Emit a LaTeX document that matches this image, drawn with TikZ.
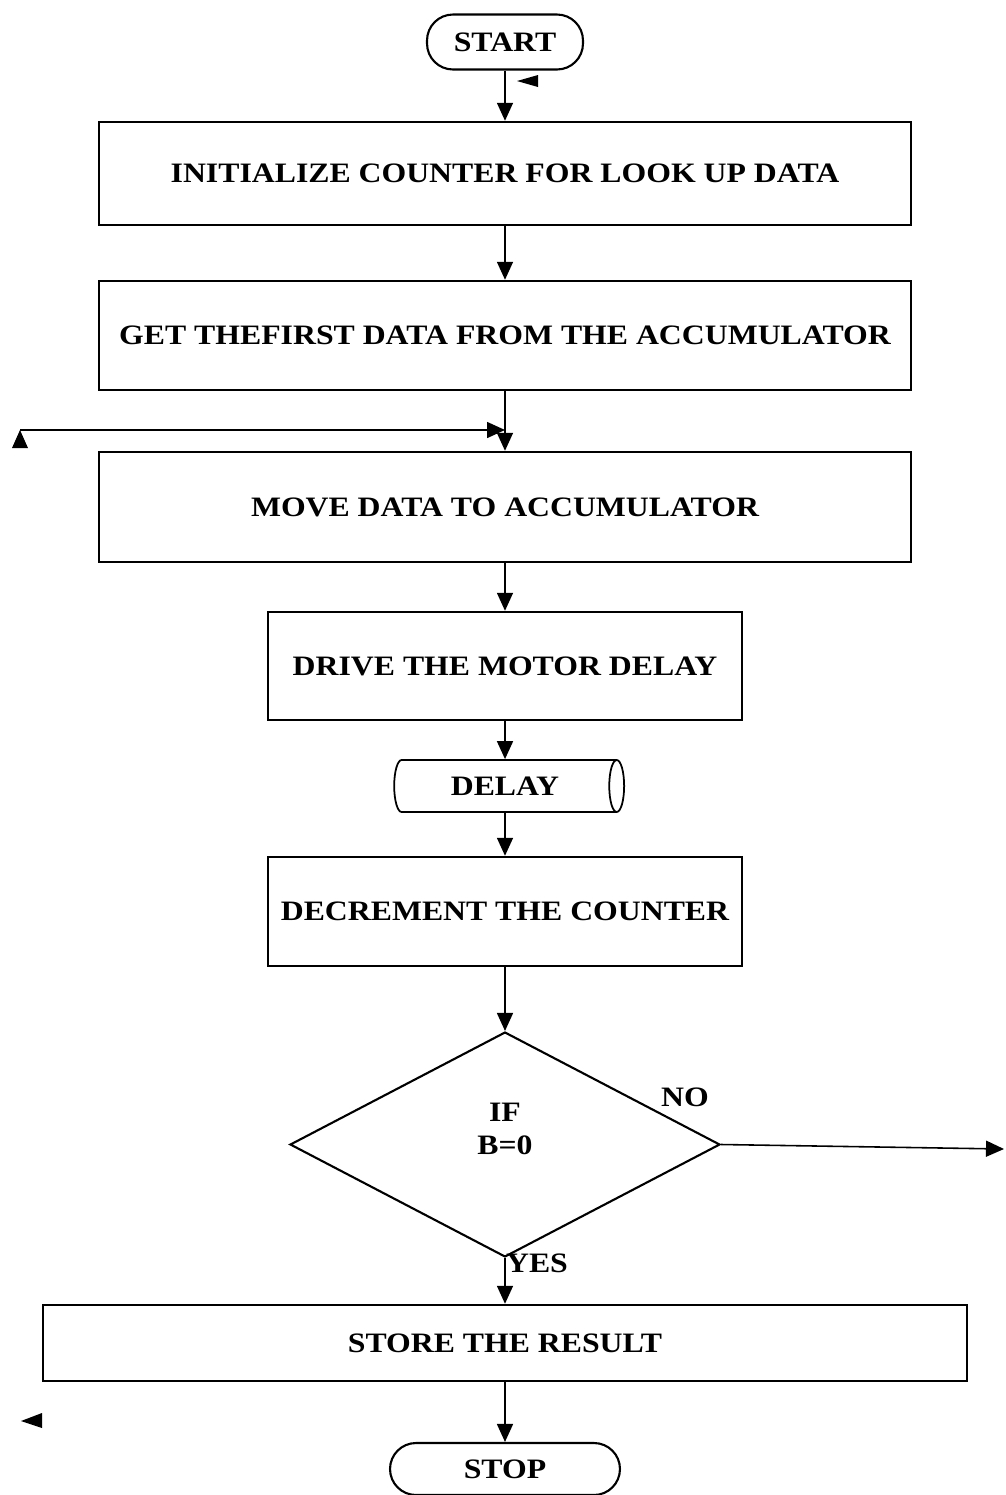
\documentclass[tikz,border=0pt]{standalone}
\usepackage{fontspec}
\setmainfont{Liberation Serif}[FakeStretch=1.13]
\usetikzlibrary{positioning,arrows.meta,shapes.geometric}

\begin{document}
\begin{tikzpicture}[x=0.02cm, y=-0.02cm,
  proc/.style={draw, line width=1.4pt, minimum width=16.24cm,
               minimum height=2.12cm, align=center, inner sep=0pt,
               font=\bfseries\fontsize{16}{19}\selectfont},
  term/.style={draw, line width=1.2pt, rounded corners=0.52cm,
               minimum height=1.1cm, inner sep=0pt,
               font=\bfseries\fontsize{16}{19}\selectfont},
  pipe/.style={draw, line width=1pt, cylinder, shape aspect=0.8,
               minimum height=4.6cm, minimum width=1.04cm, inner sep=0pt,
               font=\bfseries\fontsize{16}{19}\selectfont},
  decision/.style={draw, line width=1.2pt, diamond, minimum width=8.6cm,
                   minimum height=4.5cm, inner sep=0pt, align=center,
                   text depth=0.64cm,
                   font=\bfseries\fontsize{16}{19}\selectfont},
  arr/.style={-{Triangle[length=0.36cm, width=0.32cm]}, line width=0.9pt},
  lbl/.style={font=\bfseries\fontsize{16}{19}\selectfont}
]
  \useasboundingbox (0,0) rectangle (1005,1495);

  % Start
  \node[term, minimum width=3.12cm] (start) at (505,42) {START};

  % Set up
  \node[proc, minimum height=2.06cm] (init) at (505,173.5)
    {INITIALIZE COUNTER FOR LOOK UP DATA};
  \node[proc, minimum height=2.18cm] (getdata) at (505,335.5)
    {GET THEFIRST DATA FROM THE ACCUMULATOR};
  \node[proc, minimum height=2.2cm] (movedata) at (505,507)
    {MOVE DATA TO ACCUMULATOR};

  % Motor step
  \node[proc, minimum width=9.48cm, minimum height=2.16cm] (drive) at (505,666)
    {DRIVE THE MOTOR DELAY};
  \node[pipe] (delay) at (505,786) {DELAY};
  \node[proc, minimum width=9.48cm, minimum height=2.18cm] (decr) at (505,911.5)
    {DECREMENT THE COUNTER};

  % Test
  \node[decision] (check) at (505,1144.5) {IF\\B=0};
  \node[lbl] (no) at (685,1097) {NO};
  \node[lbl] (yes) at (537,1263) {YES};

  % End
  \node[proc, minimum width=18.48cm, minimum height=1.52cm] (store) at (505,1343)
    {STORE THE RESULT};
  \node[term, minimum width=4.6cm, minimum height=1.04cm] (stop) at (505,1469)
    {STOP};

  % Connectors
  \draw[arr] (start) -- (init);
  \draw[arr] (init) -- (getdata);
  \draw[arr] (getdata) -- (movedata);
  \draw[arr] (movedata) -- (drive);
  \draw[arr] (drive) -- (delay);
  \draw[arr] (delay) -- (decr);
  \draw[arr] (decr) -- (check);
  \draw[arr] (check) -- (store);
  \draw[arr] (store) -- (stop);

  % Loop back line
  \coordinate (loopL) at (20,430);
  \coordinate (loopR) at (505,430);
  \draw[arr] (loopL) -- (loopR);
  \fill (loopL) -- ++(-8,18) -- ++(16,0) -- cycle;

  % NO branch
  \coordinate (noEnd) at (1004,1149);
  \draw[arr] (check.east) -- (noEnd);

  % Loose arrow heads
  \fill (517,81) -- (538,75) -- (538,87) -- cycle;
  \fill (21,1421) -- (42,1413) -- (42,1428) -- cycle;
\end{tikzpicture}
\end{document}
